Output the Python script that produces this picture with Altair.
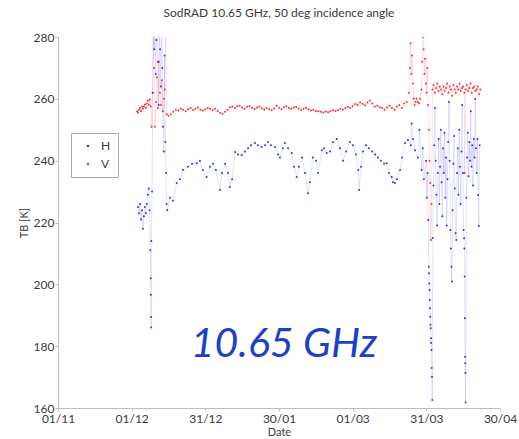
import altair as alt
import pandas as pd

# Axis ticks: days since 1 November, labelled as dd/mm
TICK_DAYS = [0, 30, 60, 90, 120, 150, 180]
TICK_LABELS = ["01/11", "01/12", "31/12", "30/01", "01/03", "31/03", "30/04"]
Y_TICKS = [160, 180, 200, 220, 240, 260, 280]

# H polarisation brightness temperature (day, K)
H_DAY = [
    32.6, 33.0, 33.4, 33.8, 34.2, 34.6, 35.0, 35.4, 35.8, 36.2,
    36.6, 37.0, 37.3, 37.6, 37.8, 37.85, 37.9, 37.95, 38.0, 38.3,
    38.6, 38.9, 39.2, 39.5, 39.8, 40.1, 40.4, 40.7, 41.0, 41.3,
    41.6, 41.9, 42.2, 42.5, 42.8, 43.1, 43.4, 43.7, 44.0, 44.2,
    44.5, 45.6, 46.8, 48.3, 49.7, 50.9, 52.9, 54.6, 56.5, 57.8,
    59.0, 60.5, 61.9, 63.1, 64.3, 66.0, 66.8, 68.0, 69.2, 70.0,
    70.9, 72.1, 73.3, 74.8, 76.1, 77.4, 78.6, 80.2, 81.4, 82.9,
    84.3, 85.5, 86.7, 88.4, 89.6, 90.4, 91.6, 92.4, 93.7, 95.2,
    96.1, 97.2, 98.1, 99.4, 100.6, 101.8, 102.6, 103.8, 105.1, 105.9,
    107.4, 108.3, 109.4, 110.8, 112.0, 113.5, 114.8, 116.1, 117.3, 118.9,
    120.1, 121.3, 122.3, 122.6, 123.4, 124.2, 125.4, 126.6, 127.9, 129.1,
    130.3, 131.5, 132.8, 133.9, 134.8, 135.9, 136.4, 137.2, 138.0, 139.3,
    140.1, 141.3, 142.5, 143.7, 144.0, 144.6, 145.4, 146.6, 147.2, 148.1,
    148.6, 149.0,
    149.9, 150.2, 150.5, 150.8, 151.0, 151.1, 151.2, 151.3, 151.4, 151.5,
    151.6, 151.7, 151.8, 151.9, 152.0, 152.1, 152.2, 152.3, 152.4, 152.6,
    152.9, 153.2, 153.5, 153.8, 154.1, 154.4, 154.7, 155.0, 155.3, 155.6,
    155.9, 156.2, 156.5, 156.8, 157.1, 157.4, 157.7, 158.0, 158.3, 158.6,
    158.9, 159.2, 159.5, 159.8, 160.0, 160.2, 160.4, 160.7, 161.0, 161.3,
    161.6, 161.9, 162.2, 162.5, 162.8, 163.1, 163.4, 163.7, 164.0, 164.3,
    164.6, 164.9, 165.2, 165.4, 165.5, 165.6, 165.7, 165.8, 165.85, 165.9,
    166.0, 166.3, 166.6, 166.9, 167.2, 167.5, 167.8, 168.1, 168.4, 168.7,
    169.0, 169.3, 169.6, 169.9, 170.2, 170.5, 170.8, 171.1, 171.4, 171.7,
]
H_TB = [
    225, 223, 226, 221, 224, 218, 222, 225, 223, 226,
    229, 231, 224, 211, 202, 196.6, 189.4, 186, 214, 230,
    262, 285, 276, 290, 268, 279, 285, 272, 258, 281,
    276, 264, 288, 270, 251, 243, 274, 246, 236, 226,
    224, 228, 227, 232.8, 234, 237, 238, 239, 239.2, 240,
    237, 234.7, 238, 239, 237, 230.5, 236, 239, 236, 231.5,
    234, 242.8, 242, 241.8, 243, 244, 245, 245.7, 245, 244.4,
    245, 246, 245, 244.4, 242, 241, 244, 245.7, 244, 242.5,
    238, 234.7, 238, 241, 236, 229.5, 233, 241, 240, 236,
    243.4, 244, 242.5, 243, 246, 247, 244, 240, 243, 246,
    245, 242, 237, 230.5, 238, 243, 245, 244, 243, 242,
    241, 240, 239, 239.2, 236, 234.7, 233, 232.8, 234, 237,
    241, 245.7, 246.7, 245, 252, 247, 243.4, 241, 250, 237,
    244, 234,
    240, 228, 236, 220.8, 205.7, 203.6, 200.3, 198.2, 194.9, 192.3,
    189.5, 186.9, 185.8, 182.6, 181, 178.8, 172.9, 170.1, 162.6, 215,
    232, 245, 257, 240, 229, 219, 236, 247, 226, 238,
    250, 233, 222, 244, 236, 249, 228, 241, 219, 234,
    246, 259, 240, 217.6, 211.6, 205.7, 200.9, 224, 239, 248,
    231, 216.5, 214.3, 236, 244, 229, 250, 238, 226, 243,
    258, 236, 217.6, 214.9, 211.6, 202.5, 189, 176.6, 174.5, 171.3,
    161.8, 228, 241, 249, 235, 246, 240, 256, 238, 245,
    232, 247, 241, 260, 244, 236, 247, 228.9, 218.9, 245,
]

# V polarisation brightness temperature (day, K)
V_DAY = [
    32.2, 32.6, 33.0, 33.4, 33.8, 34.2, 34.6, 35.0, 35.4, 35.8,
    36.2, 36.6, 37.0, 37.4, 37.8, 38.1,
    38.5, 38.8, 39.1, 39.5, 39.9, 40.3, 40.7, 41.1, 41.5, 41.9,
    42.3, 42.7, 43.1, 43.5, 43.9, 44.3,
    45, 46, 47, 48, 49, 50, 51, 52, 53, 54,
    55, 56, 57, 58, 59, 60, 61, 62, 63, 64,
    65, 66, 67, 68, 69, 70, 71, 72, 73, 74,
    75, 76, 77, 78, 79, 80, 81, 82, 83, 84,
    85, 86, 87, 88, 89, 90, 91, 92, 93, 94,
    95, 96, 97, 98, 99, 100, 101, 102, 103, 104,
    105, 106, 107, 108, 109, 110, 111, 112, 113, 114,
    115, 116, 117, 118, 119, 120, 121, 122, 123, 124,
    125, 126, 127, 128, 129, 130, 131, 132, 133, 134,
    135,
    136, 137, 138, 139, 140, 141, 142, 143, 143.3, 143.6,
    143.9, 144.2, 144.5, 144.8, 145.2, 145.6, 146, 146.5, 147, 147.5,
    148, 148.3, 148.6, 148.9, 149.2, 149.5, 149.8, 150.1, 150.4, 150.7,
    151.0, 151.3, 151.6, 151.9, 152.1,
    152.5, 153, 153.5, 154, 154.5, 155, 155.5, 156, 156.5, 157,
    157.5, 158, 158.5, 159, 159.5, 160, 160.5, 161, 161.5, 162,
    162.5, 163, 163.5, 164, 164.5, 165, 165.5, 165.6, 166, 166.5,
    167, 167.5, 168, 168.5, 169, 169.5, 170, 170.5, 171, 171.5,
    172,
]
V_TB = [
    256, 255.5, 256.5, 257, 256, 257.5, 256.8, 257.5, 258.2, 257,
    258.5, 259.5, 258, 259.8, 257.5, 251,
    262, 285, 270, 251, 259, 267, 257, 272, 262, 258,
    266, 256, 260, 263, 285, 255,
    254.5, 255, 255.8, 256.5, 256.2, 256.8, 256.5, 256, 256.6, 257,
    256.4, 256.8, 257.2, 256.5, 256.2, 256.6, 257, 256.8, 256.3, 256.8,
    256.1, 255.5, 255.2, 255.8, 256.5, 257.3, 257.5, 257, 257.6, 257.8,
    257.2, 256.8, 257.4, 257.6, 257.1, 256.7, 257.2, 257.5, 256.9, 256.5,
    257, 256.6, 256.3, 256.9, 257.8, 257.1, 256.6, 257.3, 257.6, 257,
    256.8, 257.2, 257.4, 256.9, 256.3, 256.8, 257.1, 256.6, 256.2, 256.5,
    256.1, 256, 255.8, 255.6, 255.9, 255.7, 256, 256.3, 256.1, 256.4,
    256.8, 256.5, 257, 257.4, 257.1, 257.6, 258.3, 258, 258.8, 258.4,
    257.9, 258.8, 259.5, 258.5, 257.5, 257.8, 257.3, 257, 256.5, 257.2,
    257.8,
    257, 256.5, 257.5, 258, 257, 258.5, 259, 262, 270, 278,
    268, 274, 265, 260, 258, 259, 260, 259, 258.5, 260,
    263, 272, 280, 276, 268, 273, 265, 262, 270, 258,
    250, 240, 232.8, 214.3, 226,
    263, 264.5, 262, 263.5, 265, 262.5, 264, 263, 261.5, 264,
    262.5, 263.5, 265, 262, 264, 263, 261, 264.5, 263, 262,
    264, 263, 265, 262.5, 263.5, 264, 262, 236, 263, 264.5,
    262.5, 263.5, 265, 262, 263.5, 264, 262.5, 263, 264, 261.5,
    263,
]

assert len(H_DAY) == len(H_TB) and len(V_DAY) == len(V_TB)

rows = [{"day": d, "tb": t, "pol": "H"} for d, t in zip(H_DAY, H_TB)]
rows += [{"day": d, "tb": t, "pol": "V"} for d, t in zip(V_DAY, V_TB)]
df = pd.DataFrame(rows)

# Frequency annotation placed in data units
ANNOT_DAY = [92.0]
ANNOT_TB = [180.4]
ANNOT_TEXT = ["10.65 GHz"]
ann = pd.DataFrame({"day": ANNOT_DAY, "tb": ANNOT_TB, "text": ANNOT_TEXT})

FONT = "Lato"
AXIS_GREY = "#bdbdbd"
TEXT_GREY = "#3a3a3a"

label_expr = f"{TICK_LABELS}[indexof({TICK_DAYS}, datum.value)]"

x_enc = alt.X(
    "day:Q",
    scale=alt.Scale(domain=[0, 180], nice=False, zero=False),
    axis=alt.Axis(
        values=TICK_DAYS, labelExpr=label_expr, title="Date", grid=False,
        domainColor=AXIS_GREY, tickColor=AXIS_GREY, tickSize=3,
        labelFont=FONT, labelFontSize=12, labelColor=TEXT_GREY, labelPadding=2,
        titleFont=FONT, titleFontSize=11, titleFontWeight="normal",
        titleColor=TEXT_GREY, titlePadding=2, labelFlush=False,
    ),
)
y_enc = alt.Y(
    "tb:Q",
    scale=alt.Scale(domain=[160, 280], nice=False, zero=False),
    axis=alt.Axis(
        values=Y_TICKS, title="TB [K]", grid=False,
        domainColor=AXIS_GREY, tickColor=AXIS_GREY, tickSize=3,
        labelFont=FONT, labelFontSize=12, labelColor=TEXT_GREY, labelPadding=1,
        titleFont=FONT, titleFontSize=11, titleFontWeight="normal",
        titleColor=TEXT_GREY, titlePadding=4,
    ),
)
color_scale = alt.Scale(domain=["H", "V"], range=["#0000ff", "#ff0000"])

base = alt.Chart(df)

lines = base.mark_line(strokeWidth=0.6, opacity=0.2, clip=True).encode(
    x=x_enc, y=y_enc,
    color=alt.Color("pol:N", scale=color_scale, legend=None),
)

points = base.mark_circle(size=4, opacity=0.8, clip=True).encode(
    x=x_enc, y=y_enc,
    color=alt.Color(
        "pol:N", scale=color_scale,
        legend=alt.Legend(
            title=None, orient="none", legendX=13, legendY=96,
            symbolType="circle", symbolSize=6, symbolStrokeWidth=0,
            labelFont=FONT, labelFontSize=12, labelColor=TEXT_GREY,
            labelOffset=7, rowPadding=6, padding=7, symbolOffset=4,
            strokeColor="#a8a8a8", fillColor="white", cornerRadius=0,
        ),
    ),
)

label = alt.Chart(ann).mark_text(
    font=FONT, fontStyle="italic", fontSize=41, color="#1c3fcc",
    align="center", baseline="middle",
).encode(x=x_enc, y=y_enc, text="text:N")

chart = (
    alt.layer(lines, points, label)
    .resolve_legend(color="independent")
    .properties(
        width=442,
        height=371,
        title=alt.TitleParams(
            "SodRAD 10.65 GHz, 50 deg incidence angle",
            font=FONT, fontSize=12, fontWeight="normal", color=TEXT_GREY,
            anchor="middle", offset=11,
        ),
        autosize=alt.AutoSizeParams(type="none"),
        padding={"left": 58, "top": 37, "right": 19, "bottom": 31},
    )
    .configure_view(stroke=None)
)

chart.save("out.html", embed_options={"renderer": "svg", "actions": False})
